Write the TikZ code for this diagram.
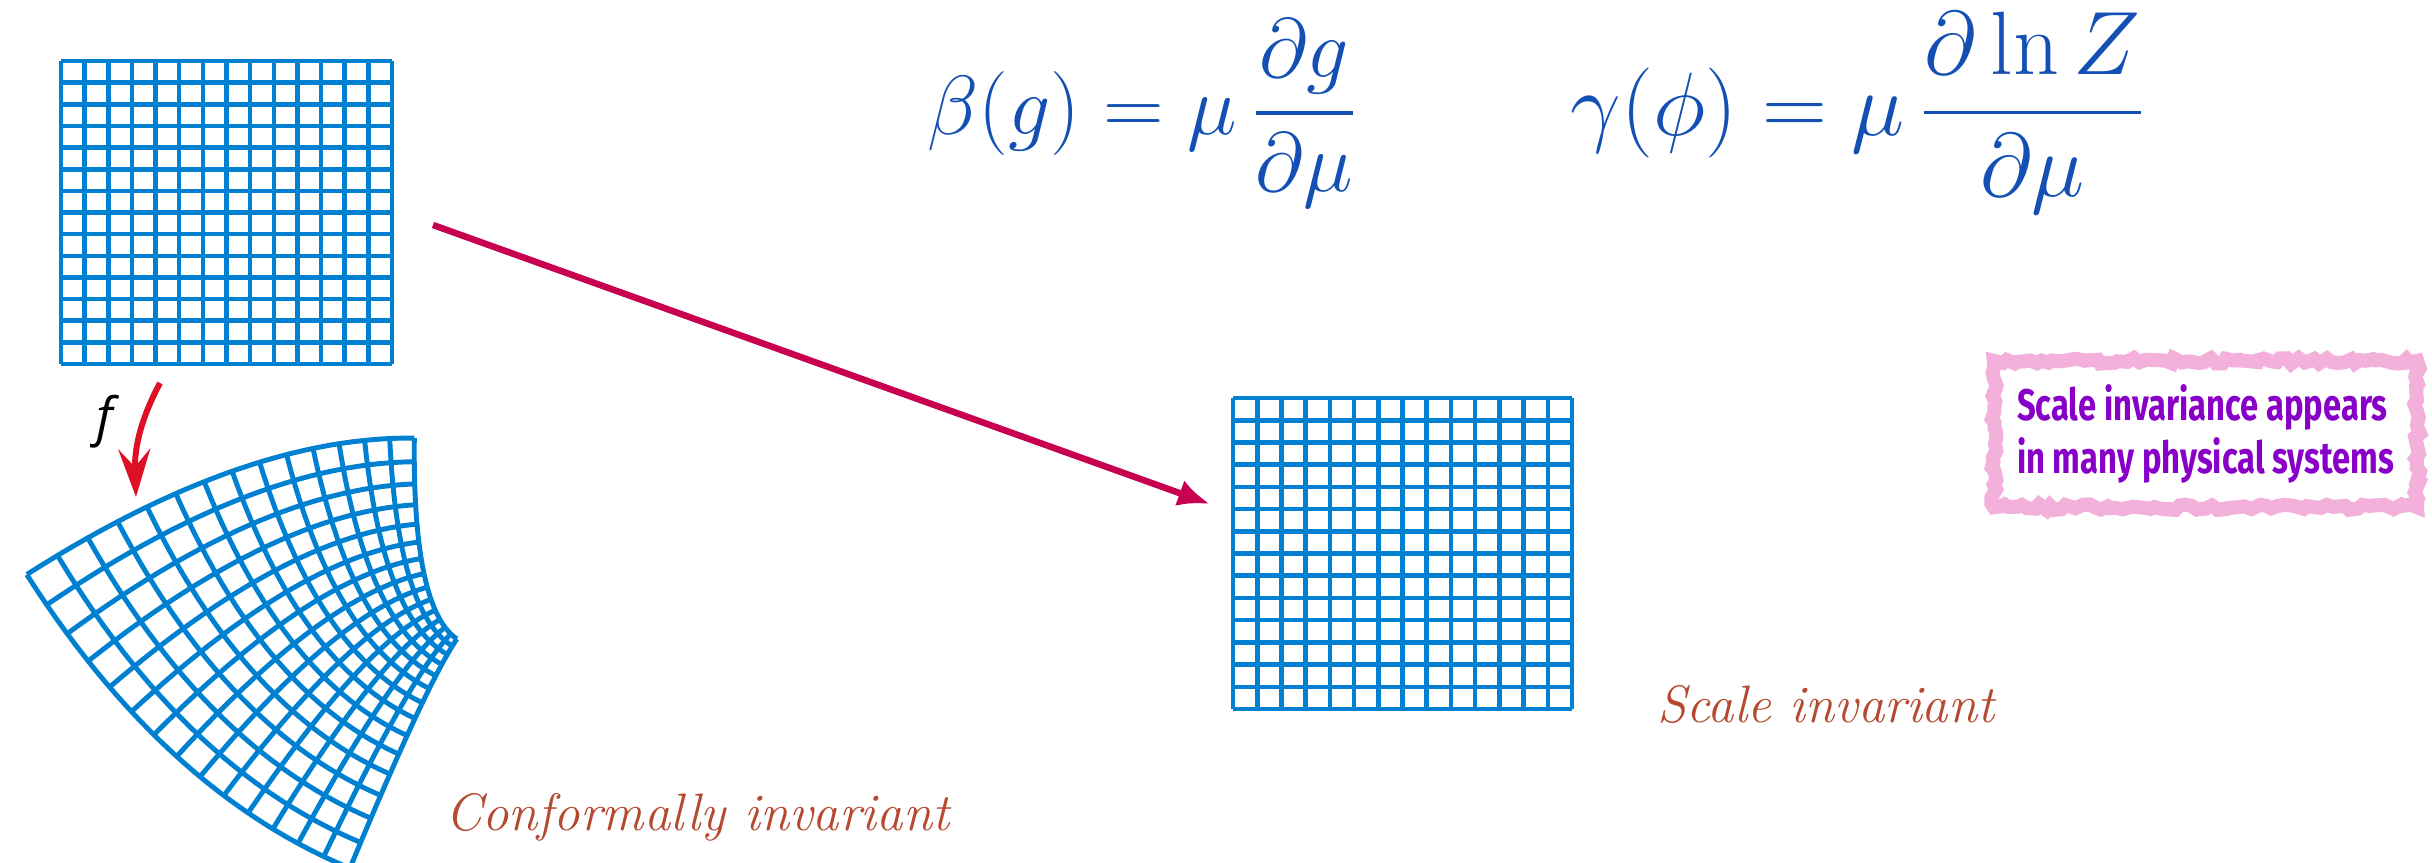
\documentclass[tikz,border=0pt]{standalone}
\usepackage{fix-cm}
\usepackage{amsmath,amssymb}
\usepackage{fontspec}
\usepackage{xcolor}
\usepackage{tikz}
\usetikzlibrary{arrows.meta,calc,decorations.pathmorphing}
\newfontfamily\notefont[FakeStretch=0.74]{Fira Sans}
\newfontfamily\fsans{Open Sans}
\definecolor{gridblue}{RGB}{0,128,208}
\definecolor{eqblue}{RGB}{20,80,180}
\definecolor{mainred}{RGB}{200,0,80}
\definecolor{fred}{RGB}{222,16,38}
\definecolor{lblbrown}{RGB}{181,74,48}
\definecolor{framepink}{RGB}{242,176,218}
\definecolor{notepurple}{RGB}{136,0,200}

\begin{document}
\begin{tikzpicture}[
  gridbox/.style={draw=none, inner sep=0pt, outer sep=0pt},
  gline/.style={draw=gridblue, line width=1.3pt},
  cline/.style={draw=gridblue, line width=1.4pt, line join=round},
  eq/.style={inner sep=0pt, anchor=base west, text=eqblue},
  lbl/.style={inner sep=0pt, anchor=base west, text=lblbrown,
    font=\fontsize{15}{18}\selectfont\itshape},
  marr/.style={-{Latex[length=3.2mm,width=2.7mm]}, draw=mainred, line width=1.85pt},
  farr/.style={-{Stealth[length=4.8mm,width=3.2mm,inset=1.8mm]}, draw=fred, line width=1.7pt},
  frame/.style={draw=framepink, line width=0.14cm,
    decorate, decoration={random steps, segment length=1.6pt, amplitude=0.8pt}}]
  \useasboundingbox (0,0) rectangle (24.32,-8.63);
  \pgfmathsetseed{7}
  % square lattice
  \node[gridbox, minimum width=3.31cm, minimum height=3.03cm] (lat) at (2.265,-2.125) {};
  \foreach \i in {0,...,14}{
    \draw[gline] ($(lat.south west)!\i/14!(lat.south east)$) -- ($(lat.north west)!\i/14!(lat.north east)$);
    \draw[gline] ($(lat.south west)!\i/14!(lat.north west)$) -- ($(lat.south east)!\i/14!(lat.north east)$);
  }
  % rescaled lattice
  \node[gridbox, minimum width=3.39cm, minimum height=3.11cm] (scl) at (14.025,-5.535) {};
  \foreach \i in {0,...,14}{
    \draw[gline] ($(scl.south west)!\i/14!(scl.south east)$) -- ($(scl.north west)!\i/14!(scl.north east)$);
    \draw[gline] ($(scl.south west)!\i/14!(scl.north west)$) -- ($(scl.south east)!\i/14!(scl.north east)$);
  }
  % conformal image of the lattice, w = z^2
  \begin{scope}[shift={(4.719,-6.264)}, rotate=71.7, scale=1.478]
    \foreach \i in {0,...,14}{
      \pgfmathsetmacro\cx{0.1+\i/14}
      \pgfmathsetmacro\cy{0.35+\i/14}
      \draw[cline] plot[domain=0.35:1.35, samples=30, variable=\t] ({\cx*\cx-\t*\t},{2*\cx*\t});
      \draw[cline] plot[domain=0.1:1.1, samples=30, variable=\t] ({\t*\t-\cy*\cy},{2*\t*\cy});
    }
  \end{scope}
  % arrows
  \coordinate (mstart) at (4.33,-2.25);
  \coordinate (mend) at (12.10,-5.04);
  \draw[marr] (mstart) -- (mend);
  \coordinate (fstart) at (1.60,-3.83);
  \coordinate (fend) at (1.36,-4.97);
  \draw[farr] (fstart) to[out=-118,in=92] (fend);
  \node[inner sep=0pt, font=\fsans\itshape\fontsize{15}{17}\selectfont] (fmap) at (1.05,-4.22) {f};
  % equations
  \node[eq, font=\fontsize{23.9}{28}\selectfont] (betaeq) at (9.27,-1.34)
    {$\displaystyle \beta(g) = \mu\,\frac{\partial g}{\partial \mu}$};
  \node[eq, font=\fontsize{25.6}{30}\selectfont] (gammaeq) at (15.70,-1.35)
    {$\displaystyle \gamma(\phi) = \mu\,\frac{\partial \ln Z}{\partial \mu}$};
  % labels
  \node[lbl] (conflbl) at (4.45,-8.30) {Conformally invariant};
  \node[lbl] (scllbl) at (16.57,-7.22) {Scale invariant};
  % note box
  \node[inner sep=0pt, minimum width=4.22cm, minimum height=1.45cm, align=left,
    text=notepurple, font=\notefont\bfseries\fontsize{12.6}{15}\selectfont] (note) at (22.055,-4.34)
    {Scale invariance appears\\in many physical systems};
  \draw[frame] (note.north west) rectangle (note.south east);
  \draw[draw=framepink, line width=0.1cm] (note.north west) rectangle (note.south east);
\end{tikzpicture}
\end{document}
